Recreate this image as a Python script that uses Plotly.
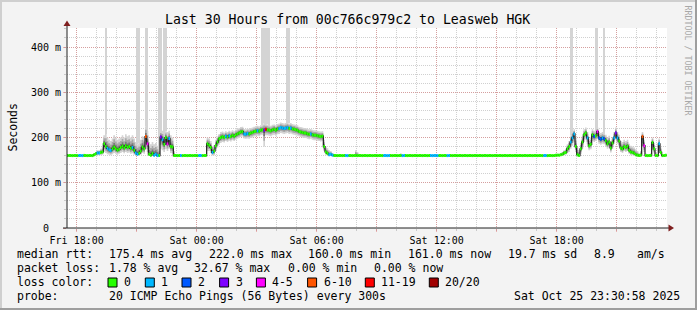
import plotly.graph_objects as go
import pandas as pd

# ---------------- data ----------------
title_text = "Last 30 Hours from 00c766c979c2 to Leasweb HGK"
step_start = "2025-10-24 17:30:00"
step_minutes = 5
x_range = ["2025-10-24 17:31:00", "2025-10-25 23:31:00"]
y_max_ms = 442

x_tick_times = ["2025-10-24 18:00", "2025-10-24 21:00", "2025-10-25 00:00", "2025-10-25 03:00",
                "2025-10-25 06:00", "2025-10-25 09:00", "2025-10-25 12:00", "2025-10-25 15:00",
                "2025-10-25 18:00", "2025-10-25 21:00"]
x_tick_labels = ["Fri 18:00", "", "Sat 00:00", "", "Sat 06:00", "", "Sat 12:00", "", "Sat 18:00", ""]
y_tick_vals = [0, 100, 200, 300, 400]
y_tick_labels = ["0\u00a0\u00a0", "100 m", "200 m", "300 m", "400 m"]

# median RTT per 5-minute step (ms)
median_ms = (
    [160, 160, 160, 160, 160, 160, 160, 160, 160, 160,
     160, 160, 160, 160, 160, 160, 162, 164, 166, 166,
     167, 168, 186, 180, 176, 173, 171, 175, 179, 175,
     172, 174, 178, 181, 177, 182, 178, 180, 176, 178,
     172, 166, 163, 165, 170, 179, 175, 202, 186, 163,
     161, 165, 161, 163, 160, 160, 201, 195, 185, 200,
     186, 198, 180, 179, 160, 160, 160, 160, 160, 160,
     160, 160, 160, 160, 160, 160, 160, 160, 160, 160,
     160, 160, 160, 160, 186, 183, 178, 167, 170, 182,
     190, 197, 200, 202, 200, 203, 201, 204, 202, 205,
     203, 206, 208, 210, 212, 213, 208, 207, 209, 208,
     210, 211, 213, 214, 215, 214, 216, 217, 216, 218,
     217, 216, 215, 217, 218, 216, 219, 220, 222, 221,
     220, 221, 222, 220, 221, 219, 218, 217, 216, 213,
     212, 211, 210, 210, 208, 207, 208, 206, 205, 205,
     204, 203, 202, 203, 180, 168, 165, 162, 163, 161]
    + [160] * 130
    + [160, 160, 160, 161, 161, 161, 162, 163, 166, 167,
       175, 180, 190, 199, 208, 180, 162, 160, 175, 190,
       206, 210, 199, 182, 185, 206, 202, 204, 213, 199,
       196, 199, 197, 193, 186, 190, 177, 188, 199, 210,
       199, 192, 177, 175, 180, 178, 181, 172, 168, 167,
       165, 162, 161, 160, 161, 202, 182, 160, 160, 160,
       160, 189, 175, 160, 160, 186, 167, 160, 160, 161]
)

# lowest / highest of the 20 pings per step (ms), excluding off-scale outliers
smoke_lo_ms = (
    [159, 159, 159, 159, 159, 159, 159, 159, 159, 159,
     159, 159, 159, 159, 159, 159, 160, 160, 161, 161,
     161, 162, 168, 166, 163, 162, 161, 163, 166, 164,
     162, 164, 166, 168, 165, 168, 166, 167, 164, 165,
     162, 160, 159, 160, 162, 166, 164, 175, 168, 159,
     158, 159, 158, 159, 158, 158, 175, 172, 168, 174,
     170, 175, 166, 165, 158, 159, 159, 159, 159, 159,
     159, 159, 159, 159, 159, 159, 159, 159, 159, 159,
     159, 159, 159, 159, 170, 170, 166, 160, 161, 170,
     178, 184, 188, 190, 189, 192, 190, 193, 191, 194,
     192, 195, 197, 199, 201, 202, 198, 197, 198, 197,
     199, 200, 202, 203, 204, 203, 205, 206, 180, 205,
     205, 204, 203, 205, 206, 204, 207, 208, 210, 209,
     208, 209, 210, 208, 209, 207, 206, 205, 204, 202,
     201, 200, 199, 199, 197, 196, 197, 195, 194, 194,
     193, 192, 191, 192, 170, 162, 160, 159, 160, 159]
    + [159] * 130
    + [159, 159, 159, 159, 159, 159, 160, 160, 161, 162,
       165, 168, 175, 182, 190, 168, 158, 157, 163, 175,
       190, 195, 185, 172, 174, 192, 190, 192, 198, 186,
       184, 186, 185, 180, 175, 178, 167, 175, 186, 195,
       186, 180, 168, 166, 170, 168, 170, 164, 161, 161,
       160, 159, 158, 158, 158, 180, 168, 158, 158, 158,
       158, 172, 165, 158, 158, 170, 162, 158, 158, 158]
)
smoke_hi_ms = (
    [161, 161, 161, 161, 161, 161, 161, 161, 161, 161,
     164, 161, 161, 161, 161, 161, 165, 168, 172, 172,
     175, 178, 205, 208, 200, 195, 192, 198, 205, 200,
     195, 198, 200, 205, 200, 207, 203, 205, 200, 205,
     198, 190, 185, 188, 195, 203, 200, 225, 215, 190,
     185, 190, 185, 188, 182, 175, 215, 215, 210, 214,
     212, 215, 205, 200, 170, 162, 161, 161, 161, 161,
     161, 161, 161, 161, 161, 161, 161, 161, 161, 161,
     161, 161, 161, 161, 200, 198, 192, 180, 183, 195,
     202, 208, 212, 213, 211, 214, 212, 215, 213, 216,
     214, 217, 219, 221, 223, 224, 219, 218, 220, 219,
     221, 222, 224, 225, 226, 225, 227, 228, 232, 230,
     229, 228, 226, 228, 229, 227, 230, 231, 233, 232,
     231, 232, 233, 231, 232, 230, 229, 228, 227, 224,
     223, 222, 221, 221, 219, 218, 219, 217, 216, 216,
     215, 214, 213, 214, 195, 180, 176, 172, 170, 166]
    + [161] * 13 + [172, 168] + [161] * 25 + [165] + [161] * 89
    + [161, 161, 162, 163, 163, 164, 166, 168, 172, 175,
       185, 192, 205, 212, 218, 200, 178, 172, 188, 202,
       218, 222, 212, 198, 200, 218, 215, 215, 222, 212,
       210, 212, 210, 206, 200, 204, 192, 200, 212, 222,
       212, 206, 192, 190, 195, 192, 195, 186, 182, 180,
       178, 174, 170, 165, 170, 212, 195, 165, 162, 162,
       165, 200, 188, 168, 163, 198, 178, 163, 162, 162]
)

# steps where the slowest ping went off the top of the scale
spike_steps = [23, 42, 43, 47, 48, 55, 56, 58, 59, 117, 118, 119, 120, 121,
               132, 133, 302, 303, 317, 318, 322]
spike_max_ms = [460] * len(spike_steps)

# lost pings (out of 20) per step; steps not listed lost none
loss_events = {7: 1, 8: 1, 9: 1, 18: 1, 19: 1, 24: 1, 25: 1, 26: 1, 39: 1, 41: 1, 42: 1,
               47: 8, 48: 5, 52: 1, 53: 1, 54: 1, 56: 3, 57: 1, 60: 5, 61: 1, 68: 1,
               79: 1, 80: 1, 87: 1, 95: 1, 97: 1, 106: 1, 107: 1, 108: 1, 114: 1,
               118: 3, 119: 15, 127: 1, 128: 1, 129: 1, 130: 1, 131: 1, 132: 1, 134: 1,
               146: 1, 157: 1, 158: 1, 159: 1, 167: 1, 168: 1, 190: 1, 191: 1, 192: 1,
               193: 1, 201: 1, 202: 1, 218: 1, 219: 1, 220: 1, 221: 1, 222: 1, 228: 1,
               229: 1, 286: 1, 287: 1, 302: 1, 303: 1, 304: 1, 312: 1, 316: 2, 318: 5,
               319: 2, 320: 2, 321: 1, 322: 2, 328: 1, 329: 3, 330: 1, 345: 8, 346: 5,
               355: 1}

loss_buckets = [(0, 0, "#26ff00", "0"), (1, 1, "#00b8ff", "1"), (2, 2, "#0059ff", "2"),
                (3, 3, "#7e00ff", "3"), (4, 5, "#ff00ff", "4-5"), (6, 10, "#ff5500", "6-10"),
                (11, 19, "#ff0000", "11-19"), (20, 20, "#a10000", "20/20")]

legend_rtt = [("median rtt:", 16), ("175.4 ms avg", 107.7), ("222.0 ms max", 207.5),
              ("160.0 ms min", 306.7), ("161.0 ms now", 407.3), ("19.7 ms sd", 506.7),
              ("8.9", 593.3), ("am/s", 636)]
legend_loss = [("packet loss:", 16), ("1.78 % avg", 107.7), ("32.67 % max", 193.3),
               ("0.00 % min", 286.7), ("0.00 % now", 372.7)]
legend_probe = [("probe:", 16), ("20 ICMP Echo Pings (56 Bytes) every 300s", 107.7),
                ("Sat Oct 25 23:30:58 2025", 513.3)]
legend_box_left = [108, 145.3, 182, 219.6, 256.4, 307.6, 365.3, 429.3]

# ---------------- layout helpers ----------------
W, H = 697, 310
PL, PR, PT, PB = 67, 667, 28, 228
def px(x):
    return (x - PL) / (PR - PL)
def py(y):
    return (PB - y) / (PB - PT)

FONT = "DejaVu Sans Mono"
n = len(median_ms)
t = pd.date_range(step_start, periods=n + 1, freq=f"{step_minutes}min")
t_ext = list(t)
centers = [t[i] + pd.Timedelta(minutes=step_minutes / 2) for i in range(n)]

def ext(vals):
    return list(vals) + [vals[-1]]

fig = go.Figure()

# smoke: graded grey shades, darker near the median
shades = [(1.0, "#d4d4d4"), (0.65, "#a9a9a9"), (0.35, "#7a7a7a"), (0.15, "#4a4a4a")]
for frac, col in shades:
    lo = [m - (m - l) * frac for m, l in zip(median_ms, smoke_lo_ms)]
    hi = [m + (h - m) * frac for m, h in zip(median_ms, smoke_hi_ms)]
    fig.add_trace(go.Scatter(x=t_ext, y=ext(lo), mode="lines", line=dict(width=0, shape="hv"),
                             showlegend=False, hoverinfo="skip"))
    fig.add_trace(go.Scatter(x=t_ext, y=ext(hi), mode="lines", line=dict(width=0, shape="hv"),
                             fill="tonexty", fillcolor=col, showlegend=False, hoverinfo="skip"))

# off-scale outlier columns
fig.add_trace(go.Bar(x=[centers[i] for i in spike_steps],
                     base=[smoke_hi_ms[i] for i in spike_steps],
                     y=[mx - smoke_hi_ms[i] for i, mx in zip(spike_steps, spike_max_ms)],
                     width=step_minutes * 60000, marker=dict(color="#d4d4d4", line=dict(width=0)),
                     showlegend=False, hoverinfo="skip"))

# median line (black) and loss-coloured segments
fig.add_trace(go.Scatter(x=t_ext, y=ext(median_ms), mode="lines",
                         line=dict(color="#1a1a1a", width=1.2, shape="hv"),
                         showlegend=False, hoverinfo="skip"))
loss = [loss_events.get(i, 0) for i in range(n)]
for lo_b, hi_b, col, _ in loss_buckets:
    xs, ys = [], []
    for i in range(n):
        if lo_b <= loss[i] <= hi_b:
            xs += [t[i], t[i + 1], None]
            ys += [median_ms[i], median_ms[i], None]
    if xs:
        fig.add_trace(go.Scatter(x=xs, y=ys, mode="lines", line=dict(color=col, width=3),
                                 showlegend=False, hoverinfo="skip"))

MGRID = "rgba(222,80,80,0.38)"
GRID = "rgba(143,143,143,0.42)"
DOT = "1px,1px"

annotations = []
def text(s, x, y, size=11.5, anchor="left", color="#000000", angle=0):
    annotations.append(dict(text=s, x=px(x), y=py(y), xref="paper", yref="paper",
                            xanchor=anchor, yanchor="middle", showarrow=False,
                            borderpad=0, textangle=angle,
                            font=dict(family=FONT, size=size, color=color)))

text(title_text, 347.7, 19.3, size=13.2, anchor="center")
text("Seconds", 12, 127.5, anchor="center", angle=-90)
text("RRDTOOL / TOBI OETIKER", 687.5, 60, size=8.3, anchor="center", color="#a8a8a8", angle=90)
for s, x in legend_rtt:
    text(s, x, 254.3)
for s, x in legend_loss:
    text(s, x, 268.3)
text("loss color:", 16, 282.3)
for s, x in legend_probe:
    text(s, x, 296.3)

shapes = []
for left, (_, _, col, lab) in zip(legend_box_left, loss_buckets):
    shapes.append(dict(type="rect", xref="paper", yref="paper", x0=px(left), x1=px(left + 9),
                       y0=py(278), y1=py(287), fillcolor=col, line=dict(color="#000000", width=1)))
    text(lab, left + 15, 282.3)

# frame (3D border)
shapes += [
    dict(type="rect", xref="paper", yref="paper", x0=px(0), x1=px(W), y0=py(0), y1=py(2),
         fillcolor="#cfcfcf", line=dict(width=0)),
    dict(type="rect", xref="paper", yref="paper", x0=px(0), x1=px(2), y0=py(0), y1=py(H),
         fillcolor="#cfcfcf", line=dict(width=0)),
    dict(type="rect", xref="paper", yref="paper", x0=px(0), x1=px(W), y0=py(H - 2), y1=py(H),
         fillcolor="#9e9e9e", line=dict(width=0)),
    dict(type="rect", xref="paper", yref="paper", x0=px(W - 2), x1=px(W), y0=py(0), y1=py(H),
         fillcolor="#9e9e9e", line=dict(width=0)),
]
# axis extensions and arrows
shapes += [
    dict(type="line", xref="paper", yref="paper", x0=px(67), x1=px(67), y0=py(228), y1=py(23),
         line=dict(color="#202020", width=1)),
    dict(type="line", xref="paper", yref="paper", x0=px(63), x1=px(670), y0=py(228), y1=py(228),
         line=dict(color="#202020", width=1)),
    dict(type="path", xref="paper", yref="paper",
         path=f"M {px(63.5)},{py(26)} L {px(70.5)},{py(26)} L {px(67)},{py(20.5)} Z",
         fillcolor="#7f1f1f", line=dict(width=0)),
    dict(type="path", xref="paper", yref="paper",
         path=f"M {px(668.5)},{py(224.5)} L {px(668.5)},{py(231.5)} L {px(674)},{py(228)} Z",
         fillcolor="#7f1f1f", line=dict(width=0)),
]

fig.update_layout(
    width=W, height=H,
    margin=dict(l=PL, r=W - PR, t=PT, b=H - PB, pad=0),
    paper_bgcolor="#f3f3f3", plot_bgcolor="#ffffff",
    barmode="overlay", bargap=0, hovermode=False, showlegend=False,
    annotations=annotations, shapes=shapes,
    xaxis=dict(type="date", range=x_range, tickmode="array", tickvals=x_tick_times,
               ticktext=x_tick_labels, showgrid=True, gridcolor=MGRID, griddash=DOT, gridwidth=1,
               ticks="outside", ticklen=3, tickcolor=MGRID, showline=False, zeroline=False,
               tickfont=dict(family=FONT, size=10, color="#000000"),
               minor=dict(tickmode="linear", tick0="2025-10-24 00:00", dtick=3600000,
                          showgrid=True, gridcolor=GRID, griddash=DOT, ticks="outside",
                          ticklen=2, tickcolor=GRID)),
    yaxis=dict(range=[0, y_max_ms], tickmode="array", tickvals=y_tick_vals, ticktext=y_tick_labels,
               showgrid=True, gridcolor=MGRID, griddash=DOT, gridwidth=1,
               ticks="outside", ticklen=3, tickcolor=MGRID, showline=False, zeroline=False,
               tickfont=dict(family=FONT, size=10, color="#000000"),
               minor=dict(tickmode="linear", tick0=0, dtick=20, showgrid=True, gridcolor=GRID,
                          griddash=DOT, ticks="outside", ticklen=2, tickcolor=GRID)),
)

fig.write_html("out.html", config={"displayModeBar": False})
